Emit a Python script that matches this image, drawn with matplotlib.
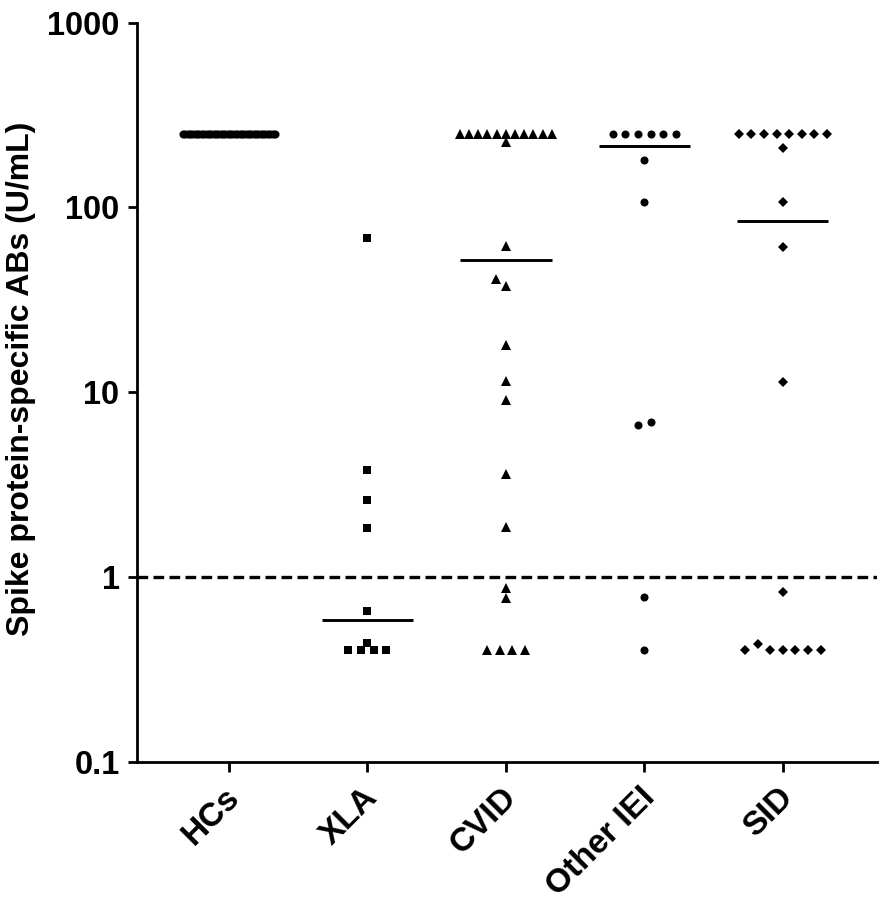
import numpy as np
import matplotlib
matplotlib.use("Agg")
import matplotlib.pyplot as plt
import matplotlib.transforms as mtransforms

plt.rcParams['font.family'] = ['Liberation Sans', 'DejaVu Sans']
plt.rcParams['font.weight'] = 'bold'

# values (U/mL); 250 is the upper limit, 0.4 the lower one
groups = ['HCs', 'XLA', 'CVID', 'Other IEI', 'SID']
hcs = [250.0] * 40
xla = [68, 3.8, 2.6, 1.84, 0.65, 0.44, 0.4, 0.4, 0.4, 0.4]
cvid = [250] * 11 + [225, 62, 41, 37.7, 17.9, 11.5, 9.1, 3.6, 1.85, 0.87, 0.77,
                     0.4, 0.4, 0.4, 0.4]
other_iei = [250] * 6 + [181, 107, 6.6, 6.9, 0.78, 0.4]
sid = [250] * 8 + [210, 107, 61, 11.4, 0.83, 0.4, 0.43, 0.4, 0.4, 0.4, 0.4, 0.4]
medians = [250, 0.58, 52, 214, 84]
cutoff = 1.0

data = [hcs, xla, cvid, other_iei, sid]
markers = ['o', 's', '^', 'o', 'D']
msizes = [5.8, 5.6, 6.5, 5.8, 4.6]


fig = plt.figure(figsize=(8.86, 9.01), dpi=100)
ax = fig.add_axes([0.1546, 0.1548, 0.8352, 0.8202])
ax.set_yscale('log')
ax.set_ylim(0.1, 1000)
ax.set_xlim(-0.664, 4.68)


def swarm(vals, xc, diam=8.0, max_w=92.0, step_max=12.6, tol=0.034):
    # spread points sideways in pixel space (GraphPad-ish scatter)
    vals = np.asarray(vals, float)
    ypx = ax.transData.transform(np.column_stack([np.full(len(vals), xc), vals]))[:, 1]
    logs = np.log10(vals)
    order = np.argsort(logs, kind='stable')
    clusters = []
    for i in order:
        if clusters and logs[i] - logs[clusters[-1][0]] < tol:
            clusters[-1].append(i)
        else:
            clusters.append([i])
    xoff = np.zeros(len(vals))
    placed = []
    for cl in clusters:
        if len(cl) < 2:
            continue
        cl = sorted(cl)
        n = len(cl)
        step = min(step_max, max_w / (n - 1))
        for k, i in enumerate(cl):
            xoff[i] = (k - (n - 1) / 2) * step
            placed.append((xoff[i], ypx[i]))
    for cl in clusters:
        if len(cl) != 1:
            continue
        i = cl[0]
        for k in [0, -1, 1, -2, 2, -3, 3]:
            off = k * 10.0
            if all(np.hypot(off - px, ypx[i] - py) >= diam for px, py in placed):
                break
        xoff[i] = off
        placed.append((off, ypx[i]))
    px_per_unit = ax.transData.transform((1, 1))[0] - ax.transData.transform((0, 1))[0]
    return xc + xoff / px_per_unit


for i, vals in enumerate(data):
    xs = swarm(vals, i)
    ax.plot(xs, vals, linestyle='none', marker=markers[i], ms=msizes[i],
            color='black', mec='black', mew=0)
    ax.plot([i - 0.33, i + 0.33], [medians[i], medians[i]], color='black',
            lw=2.1, solid_capstyle='butt')

ax.axhline(cutoff, color='black', lw=2.4, dashes=(3.2, 1.6))

for s in ['top', 'right']:
    ax.spines[s].set_visible(False)
for s in ['left', 'bottom']:
    ax.spines[s].set_linewidth(2)

ax.yaxis.set_major_locator(matplotlib.ticker.FixedLocator([0.1, 1, 10, 100, 1000]))
ax.yaxis.set_minor_locator(matplotlib.ticker.NullLocator())
ax.set_yticklabels(['0.1', '1', '10', '100', '1000'])
ax.tick_params(axis='y', length=6.5, width=2, pad=6, labelsize=23.5)

ax.set_xticks(range(len(groups)))
ax.set_xticklabels(groups, rotation=45, ha='right', va='center',
                   rotation_mode='anchor', fontsize=24)
ax.tick_params(axis='x', length=7, width=2, pad=4)
shift = mtransforms.ScaledTranslation(6 / 100, -16 / 100, fig.dpi_scale_trans)
for lbl in ax.get_xticklabels():
    lbl.set_transform(lbl.get_transform() + shift)

ax.set_ylabel('Spike protein-specific ABs (U/mL)', fontsize=23, fontweight='bold')
ax.yaxis.set_label_coords(-0.137, 0.518)

fig.savefig('out.png', dpi=100)
